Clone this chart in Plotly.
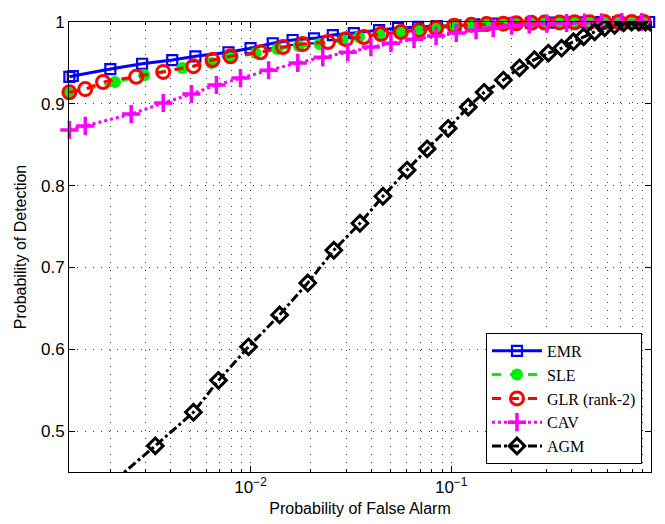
import plotly.graph_objects as go

# ---- data ----
emr_x = [0.00125, 0.0013, 0.002, 0.00288, 0.00407, 0.00531, 0.00776, 0.0100, 0.0129, 0.0162, 0.0207, 0.0257,
         0.0327, 0.0437, 0.0543, 0.0684, 0.085, 0.105, 0.13, 0.16, 0.20, 0.25, 0.31, 0.38, 0.46, 0.56, 0.68, 0.82, 0.97]
emr_y = [0.933, 0.934, 0.9425, 0.949, 0.9535, 0.958, 0.963, 0.968, 0.974, 0.978, 0.980, 0.984,
         0.9865, 0.990, 0.9927, 0.994, 0.995, 0.996, 0.997, 0.998, 0.9985, 0.999, 0.9993, 0.9995, 0.9997, 0.9998, 0.9999, 1.0, 1.0]

sle_x = [0.00125, 0.00211, 0.00295, 0.00457, 0.00638, 0.00794, 0.0106, 0.0136, 0.0174, 0.0221, 0.0288, 0.0347,
         0.0437, 0.0562, 0.0692, 0.0841, 0.1035, 0.126, 0.15, 0.182, 0.211, 0.251, 0.292, 0.347, 0.412, 0.49,
         0.582, 0.684, 0.794, 0.912]
sle_y = [0.913, 0.9267, 0.935, 0.9438, 0.950, 0.956, 0.962, 0.967, 0.9707, 0.973, 0.978, 0.9817,
         0.9853, 0.9878, 0.990, 0.9927, 0.9955, 0.9965, 0.9975, 0.998, 0.9985, 0.999, 0.9993, 0.9995, 0.9997, 0.9998,
         0.9999, 1.0, 1.0, 1.0]

glr_x = [0.00125, 0.0015, 0.00184, 0.00269, 0.00367, 0.00519, 0.00646, 0.00794, 0.0112, 0.0145, 0.0182, 0.0243,
         0.0299, 0.0367, 0.0447, 0.0562, 0.0692, 0.0841, 0.1035, 0.126, 0.15, 0.182, 0.211, 0.251, 0.292, 0.347,
         0.412, 0.49, 0.582, 0.684, 0.794, 0.912]
glr_y = [0.914, 0.918, 0.9267, 0.933, 0.939, 0.946, 0.9535, 0.958, 0.963, 0.9694, 0.973, 0.9755,
         0.979, 0.9817, 0.9853, 0.9878, 0.990, 0.9927, 0.9955, 0.9965, 0.9975, 0.998, 0.9985, 0.999, 0.9993, 0.9995,
         0.9997, 0.9998, 0.9999, 1.0, 1.0, 1.0]

cav_x = [0.00125, 0.0015, 0.00254, 0.00367, 0.00507, 0.00676, 0.00891, 0.0123, 0.0172, 0.0229, 0.0305, 0.0398,
         0.0501, 0.0653, 0.0841, 0.106, 0.133, 0.162, 0.20, 0.245, 0.30, 0.376, 0.462, 0.562, 0.708, 0.89]
cav_y = [0.868, 0.873, 0.8875, 0.901, 0.912, 0.923, 0.9315, 0.941, 0.950, 0.957, 0.963, 0.9694,
         0.974, 0.979, 0.983, 0.9866, 0.990, 0.9927, 0.9955, 0.997, 0.998, 0.9988, 0.9993, 0.9996, 0.9998, 1.0]

agm_x = [0.00211, 0.00335, 0.00519, 0.00692, 0.00977, 0.01396, 0.01928, 0.0260, 0.0351, 0.0457, 0.0603, 0.0759,
         0.0966, 0.1216, 0.146, 0.182, 0.219, 0.260, 0.305, 0.355, 0.407, 0.457, 0.519, 0.582, 0.653, 0.724,
         0.794, 0.86, 0.93, 0.98]
agm_y = [0.440, 0.482, 0.523, 0.562, 0.603, 0.642, 0.681, 0.721, 0.754, 0.787, 0.819, 0.845,
         0.870, 0.896, 0.914, 0.929, 0.944, 0.954, 0.962, 0.968, 0.976, 0.982, 0.988, 0.993, 0.996, 0.999,
         1.0, 1.0, 1.0, 1.0]

x_major = [0.01, 0.1]
x_major_text = ["10<sup>−2</sup>", "10<sup>−1</sup>"]
x_minor = [m * 10 ** e for e in (-3, -2, -1) for m in range(2, 10) if m * 10 ** e >= 0.00125]
y_ticks = [0.5, 0.6, 0.7, 0.8, 0.9, 1.0]
y_text = ["0.5", "0.6", "0.7", "0.8", "0.9", "1"]

fig = go.Figure()

fig.add_trace(go.Scatter(x=emr_x, y=emr_y, name="EMR", mode="lines+markers", cliponaxis=False,
                         line=dict(color="#0000ff", width=3, dash="solid"),
                         marker=dict(symbol="square-open", size=10, color="#0000ff", line=dict(width=2.2, color="#0000ff"))))
fig.add_trace(go.Scatter(x=sle_x, y=sle_y, name="SLE", mode="lines+markers", cliponaxis=False,
                         line=dict(color="#00ee00", width=3, dash="dash"),
                         marker=dict(symbol="circle", size=12, color="#00ee00")))
fig.add_trace(go.Scatter(x=glr_x, y=glr_y, name="GLR (rank-2)", mode="lines+markers", cliponaxis=False,
                         line=dict(color="#ff0000", width=3, dash="dash"),
                         marker=dict(symbol="circle-open", size=13, color="#ff0000", line=dict(width=3, color="#ff0000"))))
fig.add_trace(go.Scatter(x=cav_x, y=cav_y, name="CAV", mode="lines+markers", cliponaxis=False,
                         line=dict(color="#ff00ff", width=3, dash="dot"),
                         marker=dict(symbol="cross-thin-open", size=13, color="#ff00ff", line=dict(width=3.5, color="#ff00ff"))))
fig.add_trace(go.Scatter(x=agm_x, y=agm_y, name="AGM", mode="lines+markers", cliponaxis=True,
                         line=dict(color="#000000", width=3, dash="dashdot"),
                         marker=dict(symbol="diamond-open", size=12, color="#000000", line=dict(width=3, color="#000000"))))

grid_dash = "1px,7px"
grid_color = "#333333"

fig.update_layout(
    width=665, height=524,
    margin=dict(l=69, r=14, t=22, b=52),
    paper_bgcolor="white", plot_bgcolor="white",
    font=dict(family="Liberation Sans, Arial, sans-serif", color="black", size=16),
    showlegend=True,
    legend=dict(x=0.9845, y=0.018, xanchor="right", yanchor="bottom",
                bgcolor="white", bordercolor="black", borderwidth=1,
                font=dict(family="Liberation Serif, Times New Roman, serif", size=16, color="black"),
                tracegroupgap=0, itemwidth=50),
)

fig.update_xaxes(
    type="log", range=[-2.905, -0.004], automargin=False,
    tickmode="array", tickvals=x_major, ticktext=x_major_text,
    tickfont=dict(size=17), ticks="inside", ticklen=6, tickcolor="black",
    showline=True, linecolor="black", linewidth=1, mirror="ticks",
    showgrid=True, gridcolor=grid_color, griddash=grid_dash, gridwidth=1,
    minor=dict(tickmode="array", tickvals=x_minor, ticks="inside", ticklen=3, tickcolor="black",
               showgrid=True, gridcolor=grid_color, griddash=grid_dash, gridwidth=1),
    title=dict(text="Probability of False Alarm", font=dict(size=16), standoff=6),
    zeroline=False,
)
fig.update_yaxes(
    range=[0.45, 1.0], automargin=False,
    tickmode="array", tickvals=y_ticks, ticktext=y_text,
    tickfont=dict(size=17), ticks="inside", ticklen=6, tickcolor="black",
    showline=True, linecolor="black", linewidth=1, mirror="ticks",
    showgrid=True, gridcolor=grid_color, griddash=grid_dash, gridwidth=1,
    title=dict(text="Probability of Detection", font=dict(size=16), standoff=10),
    zeroline=False,
)

fig.write_html("out.html")
